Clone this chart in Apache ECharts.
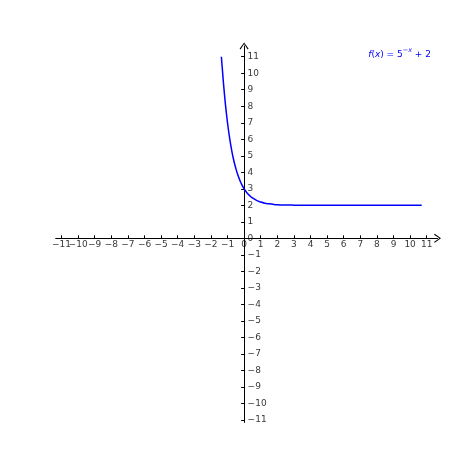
<!DOCTYPE html>
<html>
<head>
<meta charset="utf-8">
<script src="https://cdn.jsdelivr.net/npm/echarts@6/dist/echarts.min.js"></script>
<style>
  html, body { margin: 0; padding: 0; background: #fff; }
  #main { width: 474px; height: 474px; }
</style>
</head>
<body>
<div id="main"></div>
<script>
const xs = [-1.37, -1.25, -1.125, -1, -0.875, -0.75, -0.625, -0.5, -0.375, -0.25, -0.125, 0, 0.125, 0.25, 0.375, 0.5, 0.75, 1, 1.25, 1.5, 1.75, 2, 2.5, 3, 4, 5, 6, 7, 8, 9, 10, 10.7]
const ys = [11, 9.48, 8.11, 7, 6.09, 5.34, 4.73, 4.24, 3.83, 3.5, 3.22, 3, 2.82, 2.67, 2.55, 2.45, 2.3, 2.2, 2.13, 2.09, 2.06, 2.04, 2.02, 2.01, 2.0, 2.0, 2.0, 2.0, 2.0, 2.0, 2.0, 2.0]

// tick labels on both axes
const ticks = [-11, -10, -9, -8, -7, -6, -5, -4, -3, -2, -1, 0, 1, 2, 3, 4, 5, 6, 7, 8, 9, 10, 11]

const chart = echarts.init(document.getElementById('main'))

// open arrow head for the axis ends
const arrow = 'path://M5,0 L10,7 L9,7.8 L5,1.8 L1,7.8 L0,7 Z'
const fmt = v => String(v).replace('-', '\u2212')
const font = 'DejaVu Sans'
const labelFont = { fontFamily: font, fontSize: 9, color: '#000' }

chart.setOption({
  animation: false,
  title: {
    text: '{i|f}({i|x}) = 5{s|\u2212x} + 2',
    right: 38,
    top: 42,
    textStyle: {
      rich: {
        i: { fontStyle: 'italic', fontFamily: font, fontSize: 9, color: '#0000ff', lineHeight: 16 },
        s: { fontStyle: 'italic', fontFamily: font, fontSize: 6.5, color: '#0000ff', verticalAlign: 'top', lineHeight: 8 }
      },
      fontFamily: font,
      fontSize: 9,
      lineHeight: 16,
      fontWeight: 'normal',
      color: '#0000ff'
    }
  },
  grid: { left: 55.7, right: 36.5, top: 46, bottom: 51.6 },
  xAxis: {
    type: 'value',
    min: -11.35,
    max: 11.65,
    axisLine: { onZero: true, symbol: ['none', arrow], symbolSize: [10, 7], lineStyle: { color: '#000', width: 1 } },
    axisTick: { show: true, inside: true, length: 3, customValues: ticks, lineStyle: { color: '#000' } },
    axisLabel: { show: false },
    splitLine: { show: false }
  },
  yAxis: {
    type: 'value',
    min: -11.15,
    max: 11.65,
    axisLine: { show: true, onZero: true, symbol: ['none', arrow], symbolSize: [10, 7], lineStyle: { color: '#000', width: 1 } },
    axisTick: { show: true, inside: false, length: 3, customValues: ticks, lineStyle: { color: '#000' } },
    axisLabel: { show: false },
    splitLine: { show: false }
  },
  series: [
    {
      // x tick labels, placed under the zero line
      type: 'scatter',
      symbolSize: 0,
      silent: true,
      data: ticks.map(t => [t, 0]),
      label: { show: true, position: 'bottom', distance: 1.5, formatter: p => fmt(p.value[0]), ...labelFont }
    },
    {
      // y tick labels, to the right of the zero line
      type: 'scatter',
      symbolSize: 0,
      silent: true,
      data: ticks.map(t => [0, t]),
      label: { show: true, position: 'right', distance: 3.5, formatter: p => fmt(p.value[1]), ...labelFont }
    },
    {
      type: 'line',
      data: xs.map((x, i) => [x, ys[i]]),
      smooth: true,
      showSymbol: false,
      lineStyle: { color: '#0000ff', width: 1.5 }
    }
  ]
})
</script>
</body>
</html>
